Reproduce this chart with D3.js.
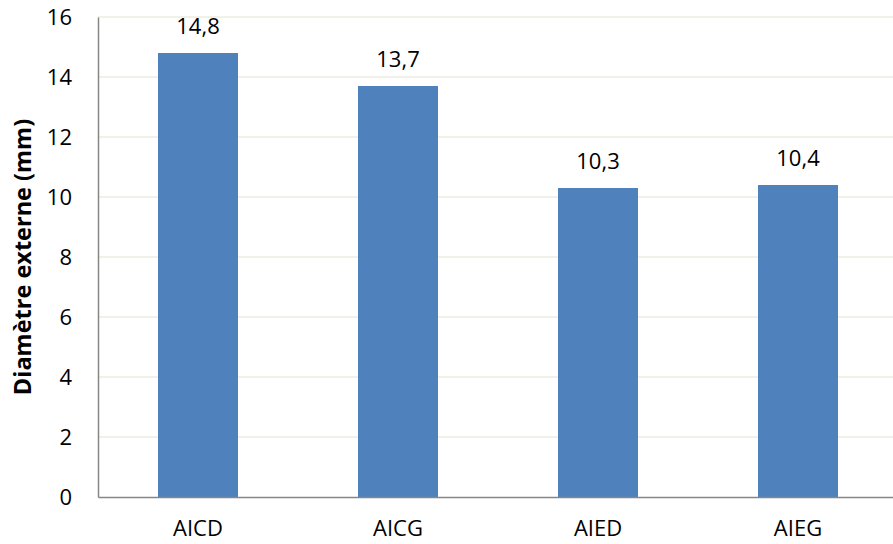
<!DOCTYPE html>
<html><head><meta charset="utf-8">
<script src="https://cdn.jsdelivr.net/npm/d3@7"></script>
<style>
html,body{margin:0;padding:0;background:#fff;}
svg{display:block;}
text{font-family:"Open Sans","Liberation Sans",Arial,sans-serif;fill:#000;}
</style></head>
<body>
<svg id="chart" width="893" height="544"></svg>
<script>
const categories = ["AICD", "AICG", "AIED", "AIEG"];
const values = [14.8, 13.7, 10.3, 10.4];
const valueLabels = ["14,8", "13,7", "10,3", "10,4"];
const yTicks = [0, 2, 4, 6, 8, 10, 12, 14, 16];
const yTitle = "Diamètre externe (mm)";

const svg = d3.select("#chart");
const mLeft = 98, mRight = 898, mTop = 17, mBottom = 497;

const x = d3.scaleBand().domain(categories).range([mLeft, mRight]).paddingInner(0.6).paddingOuter(0.3);
const y = d3.scaleLinear().domain([0, 16]).range([mBottom, mTop]);

// gridlines
svg.append("g").selectAll("line").data(yTicks.filter(d => d > 0)).join("line")
  .attr("x1", mLeft).attr("x2", mRight)
  .attr("y1", d => y(d)).attr("y2", d => y(d))
  .attr("stroke", "#EEECE1").attr("stroke-width", 1.5);

// bars
svg.append("g").selectAll("rect").data(values).join("rect")
  .attr("x", (d, i) => x(categories[i]))
  .attr("width", x.bandwidth())
  .attr("y", d => y(d))
  .attr("height", d => y(0) - y(d))
  .attr("fill", "#4F81BD");

// y axis
const yAxis = d3.axisLeft(y).tickValues(yTicks).tickSize(0).tickPadding(26).tickFormat(d3.format("d"));
const gy = svg.append("g").attr("transform", `translate(${mLeft},0)`).call(yAxis);
gy.select(".domain").attr("stroke", "#868686").attr("stroke-width", 1.5);
gy.selectAll("text").attr("font-size", 22).attr("font-family", '"Open Sans", sans-serif').attr("dy", "0.36em");

// x axis
const xAxis = d3.axisBottom(x).tickSize(0).tickPadding(23);
const gx = svg.append("g").attr("transform", `translate(0,${mBottom})`).call(xAxis);
gx.select(".domain").attr("stroke", "#868686").attr("stroke-width", 1.5);
gx.selectAll("text").attr("font-size", 22).attr("font-family", '"Open Sans", sans-serif');

// value labels
svg.append("g").selectAll("text").data(values).join("text")
  .attr("x", (d, i) => x(categories[i]) + x.bandwidth() / 2)
  .attr("y", d => y(d) - 19)
  .attr("text-anchor", "middle")
  .attr("font-size", 22)
  .text((d, i) => valueLabels[i]);

// y title
svg.append("text")
  .attr("transform", `translate(31,${(mTop + mBottom) / 2}) rotate(-90)`)
  .attr("text-anchor", "middle")
  .attr("font-size", 23.5)
  .attr("font-weight", "bold")
  .text(yTitle);
</script>
</body></html>
